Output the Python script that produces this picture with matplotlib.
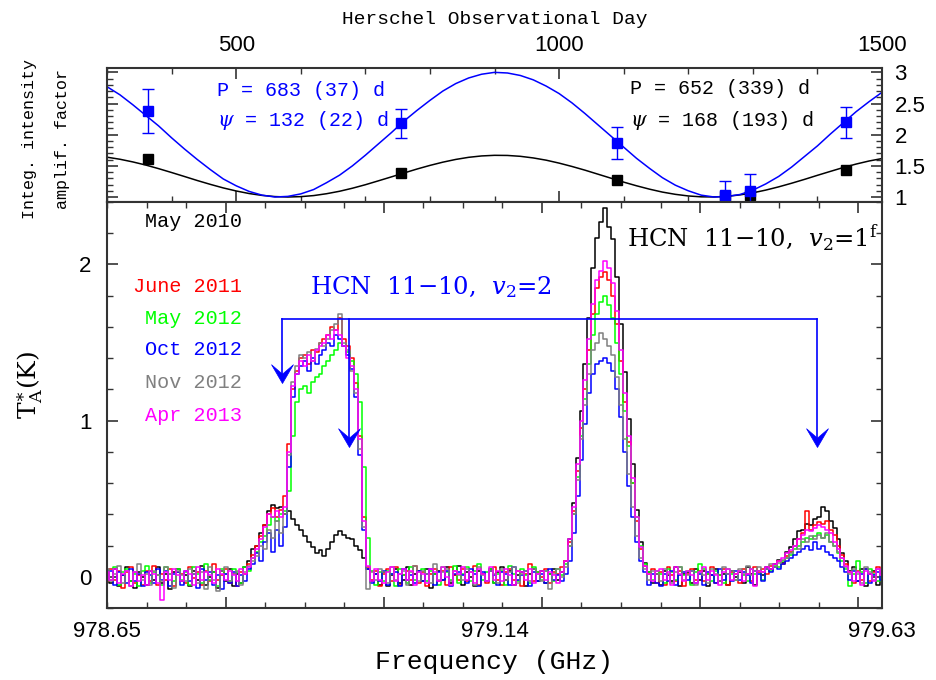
import matplotlib
matplotlib.use("Agg")
import matplotlib.pyplot as plt
import numpy as np
from matplotlib.ticker import MultipleLocator, FuncFormatter, NullFormatter
from matplotlib.path import Path

plt.rcParams['mathtext.fontset'] = 'dejavuserif'

# ---- top panel: integrated intensity amplification factor vs observing day
obs_days = [364, 755, 1090, 1257, 1296, 1444]
amp_v2_2 = [2.38, 2.18, 1.87, 1.03, 1.10, 2.20]
amp_v2_2_err = [0.36, 0.23, 0.26, 0.23, 0.27, 0.25]
amp_v2_1f = [1.61, 1.38, 1.27, 1.01, 1.04, 1.43]

# fitted curves (every 20 days, from day 300)
fit_days = np.arange(300, 1501, 20)
fit_v2_2 = [2.77, 2.64, 2.48, 2.31, 2.14, 1.95, 1.77, 1.60, 1.44, 1.29,
            1.18, 1.09, 1.03, 1.00, 1.01, 1.05, 1.12, 1.23, 1.35, 1.50,
            1.67, 1.85, 2.03, 2.22, 2.39, 2.55, 2.70, 2.82, 2.91, 2.97,
            3.00, 2.99, 2.95, 2.88, 2.78, 2.66, 2.51, 2.34, 2.16, 1.98,
            1.80, 1.62, 1.46, 1.31, 1.19, 1.10, 1.03, 1.00, 1.01, 1.04,
            1.11, 1.21, 1.33, 1.48, 1.65, 1.82, 2.01, 2.19, 2.37, 2.53,
            2.68]
fit_v2_1f = [1.639, 1.606, 1.563, 1.513, 1.455, 1.393, 1.329, 1.264, 1.203, 1.146,
             1.097, 1.056, 1.026, 1.007, 1.000, 1.006, 1.023, 1.053, 1.092, 1.141,
             1.197, 1.259, 1.322, 1.386, 1.449, 1.507, 1.559, 1.603, 1.637, 1.659,
             1.669, 1.667, 1.653, 1.627, 1.591, 1.544, 1.490, 1.431, 1.367, 1.303,
             1.239, 1.180, 1.126, 1.079, 1.043, 1.017, 1.003, 1.001, 1.011, 1.034,
             1.067, 1.111, 1.163, 1.221, 1.283, 1.348, 1.411, 1.473, 1.529, 1.578,
             1.617]

# ---- bottom panel: spectra, channels of 5 MHz from 978.65 GHz
may2010 = [0.02, -0.04, 0.05, -0.06, 0.01, 0.06, -0.03, -0.07, 0.03, 0.00,
           -0.05, 0.04, -0.02, 0.06, -0.04, 0.02, -0.08, 0.03, 0.05, -0.03,
           0.01, -0.06, 0.04, -0.02, 0.07, -0.05, 0.00, 0.03, -0.07, 0.04,
           -0.03, 0.05, -0.06, 0.02, -0.04, 0.06, 0.10, 0.18, 0.20, 0.28,
           0.33, 0.42, 0.46, 0.44, 0.45, 0.40, 0.42, 0.37, 0.33, 0.30,
           0.26, 0.22, 0.19, 0.15, 0.17, 0.13, 0.18, 0.22, 0.27, 0.29,
           0.27, 0.25, 0.24, 0.20, 0.17, 0.12, 0.05, -0.03, 0.02, -0.05,
           0.03, -0.06, 0.01, 0.05, -0.04, -0.02, 0.06, -0.05, 0.02, 0.04,
           -0.03, 0.05, -0.07, 0.02, 0.04, -0.02, 0.06, -0.04, 0.01, 0.07,
           -0.05, 0.03, 0.00, -0.06, 0.04, 0.02, -0.03, 0.05, -0.04, 0.03,
           0.06, -0.02, 0.04, -0.05, 0.01, 0.03, -0.06, 0.02, 0.05, -0.03,
           0.04, -0.04, 0.02, 0.05, -0.02, 0.03, 0.10, 0.24, 0.47, 0.76,
           1.06, 1.36, 1.66, 1.98, 2.17, 2.27, 2.36, 2.24, 2.16, 1.92,
           1.62, 1.31, 1.01, 0.72, 0.43, 0.22, 0.09, 0.03, -0.04, 0.02,
           -0.05, 0.04, 0.01, -0.03, 0.06, -0.06, 0.02, 0.03, -0.04, 0.05,
           -0.02, 0.04, -0.06, 0.01, 0.05, -0.03, 0.02, -0.05, 0.04, 0.00,
           0.03, -0.04, 0.06, 0.02, -0.05, 0.04, 0.01, 0.06, 0.05, 0.08,
           0.11, 0.09, 0.16, 0.19, 0.24, 0.29, 0.30, 0.34, 0.33, 0.37,
           0.38, 0.45, 0.42, 0.36, 0.31, 0.24, 0.15, 0.10, 0.04, 0.06,
           -0.03, 0.05, -0.06, 0.02, 0.04, -0.05, 0.03]

june2011 = [-0.03, 0.05, -0.02, 0.04, -0.07, 0.03, 0.06, -0.04, 0.01, -0.05,
            0.04, -0.03, 0.07, -0.05, 0.02, -0.02, 0.05, -0.06, 0.03, 0.02,
            -0.04, 0.06, -0.01, 0.03, -0.05, 0.04, -0.03, 0.08, -0.02, 0.01,
            0.05, -0.04, 0.02, -0.06, 0.03, 0.02, 0.08, 0.14, 0.20, 0.26,
            0.33, 0.40, 0.44, 0.38, 0.43, 0.52, 0.85, 1.20, 1.32, 1.40,
            1.42, 1.36, 1.45, 1.44, 1.50, 1.52, 1.55, 1.60, 1.58, 1.66,
            1.52, 1.48, 1.40, 1.24, 0.90, 0.38, 0.06, -0.02, 0.04, -0.06,
            0.02, 0.05, -0.03, 0.06, -0.05, 0.01, 0.04, -0.02, 0.07, -0.04,
            0.03, -0.06, 0.02, 0.05, -0.03, 0.04, -0.05, 0.06, 0.01, -0.02,
            0.05, -0.03, 0.03, 0.07, -0.05, 0.02, -0.04, 0.04, 0.06, -0.02,
            -0.05, 0.03, 0.05, -0.02, 0.04, -0.06, 0.02, 0.08, -0.03, 0.03,
            0.00, 0.05, -0.04, 0.03, 0.02, 0.06, 0.10, 0.22, 0.42, 0.68,
            0.95, 1.20, 1.45, 1.68, 1.85, 1.92, 1.95, 1.90, 1.80, 1.62,
            1.38, 1.12, 0.86, 0.60, 0.36, 0.18, 0.07, 0.02, 0.05, -0.04,
            0.03, -0.05, 0.06, 0.01, -0.03, 0.04, -0.06, 0.02, 0.05, -0.02,
            0.04, -0.03, 0.02, 0.06, -0.04, 0.01, 0.05, -0.05, 0.03, 0.02,
            -0.04, 0.05, 0.02, -0.03, 0.06, 0.03, 0.05, 0.02, 0.07, 0.06,
            0.10, 0.08, 0.13, 0.16, 0.20, 0.24, 0.28, 0.42, 0.30, 0.33,
            0.35, 0.34, 0.36, 0.30, 0.27, 0.20, 0.14, 0.08, 0.03, -0.04,
            0.04, -0.02, 0.05, -0.03, 0.03, 0.06, -0.01]

may2012 = [0.04, -0.02, 0.06, -0.05, 0.03, 0.05, -0.03, 0.02, -0.06, 0.04,
           0.07, -0.04, 0.03, 0.01, -0.05, 0.06, 0.02, -0.03, 0.05, -0.02,
           0.03, -0.05, 0.06, 0.02, -0.04, 0.08, -0.02, 0.03, -0.06, 0.05,
           0.02, -0.03, 0.05, 0.03, -0.04, 0.06, 0.04, 0.12, 0.16, 0.22,
           0.26, 0.33, 0.38, 0.36, 0.40, 0.42, 0.55, 0.90, 1.12, 1.20,
           1.22, 1.18, 1.25, 1.28, 1.30, 1.35, 1.38, 1.42, 1.45, 1.50,
           1.48, 1.44, 1.38, 1.30, 1.12, 0.70, 0.25, 0.04, -0.05, 0.03,
           -0.03, 0.04, 0.02, -0.06, 0.05, 0.01, -0.04, 0.06, -0.02, 0.03,
           0.05, -0.03, 0.04, 0.02, -0.05, 0.06, 0.03, -0.02, 0.07, -0.04,
           0.02, 0.06, -0.03, 0.04, 0.08, -0.02, 0.03, 0.05, -0.04, 0.02,
           0.04, -0.05, 0.07, 0.02, -0.03, 0.05, 0.01, -0.04, 0.06, 0.03,
           -0.02, 0.04, 0.02, -0.03, 0.05, 0.01, 0.08, 0.20, 0.40, 0.64,
           0.90, 1.14, 1.36, 1.55, 1.68, 1.76, 1.80, 1.74, 1.66, 1.50,
           1.30, 1.06, 0.84, 0.60, 0.38, 0.20, 0.08, 0.03, -0.02, 0.04,
           0.02, -0.04, 0.05, 0.03, -0.02, 0.06, 0.01, 0.04, -0.05, 0.03,
           0.08, 0.05, 0.02, -0.03, 0.04, 0.01, -0.04, 0.05, 0.02, -0.02,
           0.04, 0.01, -0.03, 0.05, 0.02, 0.04, -0.02, 0.05, 0.04, 0.07,
           0.06, 0.10, 0.12, 0.14, 0.18, 0.20, 0.22, 0.25, 0.24, 0.26,
           0.28, 0.25, 0.27, 0.22, 0.20, 0.15, 0.10, 0.05, -0.06, 0.02,
           0.10, 0.03, -0.04, 0.05, 0.02, -0.03, 0.04]

oct2012 = [-0.02, 0.04, -0.05, 0.03, 0.01, -0.04, 0.05, -0.03, 0.02, -0.06,
           0.03, 0.01, -0.04, 0.05, -0.02, 0.04, -0.06, 0.02, 0.03, -0.05,
           0.04, -0.03, 0.02, -0.07, 0.05, -0.02, 0.03, -0.05, 0.01, -0.08,
           0.02, -0.04, 0.03, -0.06, 0.01, -0.03, 0.05, 0.08, 0.15, 0.10,
           0.22, 0.28, 0.16, 0.30, 0.20, 0.32, 0.70, 1.15, 1.30, 1.35,
           1.38, 1.32, 1.40, 1.36, 1.42, 1.45, 1.50, 1.48, 1.55, 1.52,
           1.48, 1.42, 1.33, 1.15, 0.78, 0.30, 0.05, -0.04, 0.02, -0.03,
           0.04, -0.05, 0.02, 0.03, -0.06, 0.05, -0.02, 0.01, -0.04, 0.04,
           -0.03, 0.02, 0.05, -0.05, 0.03, -0.02, 0.04, -0.06, 0.02, 0.03,
           0.01, -0.04, 0.05, 0.02, -0.06, 0.03, -0.03, 0.04, 0.01, -0.05,
           0.03, 0.02, -0.05, 0.06, -0.02, 0.01, 0.04, -0.06, 0.03, -0.03,
           0.02, -0.04, 0.05, -0.02, 0.01, -0.03, 0.02, 0.10, 0.28, 0.52,
           0.75, 0.98, 1.18, 1.30, 1.36, 1.38, 1.40, 1.37, 1.32, 1.20,
           1.02, 0.80, 0.58, 0.38, 0.22, 0.10, 0.03, -0.05, 0.02, -0.04,
           -0.06, 0.02, -0.03, 0.04, -0.05, 0.01, 0.03, -0.02, 0.04, -0.04,
           0.02, -0.05, 0.03, 0.01, -0.04, 0.05, -0.02, 0.02, -0.03, 0.04,
           -0.02, 0.03, 0.01, -0.04, 0.04, 0.02, -0.03, 0.05, 0.03, 0.06,
           0.05, 0.08, 0.10, 0.12, 0.14, 0.16, 0.18, 0.20, 0.17, 0.22,
           0.18, 0.20, 0.16, 0.14, 0.12, 0.10, 0.06, 0.03, -0.02, 0.04,
           -0.03, 0.02, 0.05, -0.04, 0.01, 0.03, -0.02]

nov2012 = [0.05, -0.03, 0.02, 0.07, -0.04, 0.04, -0.06, 0.03, 0.08, -0.02,
           0.02, -0.05, 0.04, 0.01, -0.03, 0.06, 0.02, -0.07, 0.04, 0.01,
           -0.03, 0.05, 0.02, -0.04, 0.03, -0.08, 0.06, -0.02, -0.09, 0.04,
           0.06, -0.03, 0.02, 0.04, -0.05, 0.03, 0.07, 0.10, 0.13, 0.20,
           0.18, 0.30, 0.25, 0.36, 0.28, 0.40, 0.78, 1.25, 1.35, 1.42,
           1.40, 1.44, 1.38, 1.46, 1.50, 1.48, 1.52, 1.58, 1.62, 1.68,
           1.50, 1.45, 1.32, 1.18, 0.82, 0.32, -0.08, 0.03, -0.02, 0.05,
           0.03, -0.04, 0.06, -0.02, 0.02, 0.04, -0.05, 0.03, 0.07, -0.03,
           0.04, 0.02, -0.04, 0.08, -0.02, 0.03, 0.05, -0.03, 0.04, 0.01,
           -0.02, 0.05, 0.03, -0.05, 0.06, 0.01, -0.03, 0.04, 0.02, -0.04,
           0.05, -0.02, 0.03, 0.06, -0.04, 0.02, 0.04, -0.03, 0.05, 0.02,
           -0.03, 0.04, -0.08, 0.02, 0.05, 0.00, 0.06, 0.20, 0.40, 0.62,
           0.88, 1.10, 1.30, 1.45, 1.50, 1.56, 1.52, 1.48, 1.42, 1.28,
           1.10, 0.88, 0.66, 0.45, 0.26, 0.12, 0.05, -0.02, 0.04, 0.02,
           -0.03, 0.05, 0.02, -0.04, 0.03, 0.06, -0.02, 0.01, 0.04, -0.05,
           0.03, 0.01, -0.04, 0.05, 0.02, -0.03, 0.06, 0.02, 0.04, -0.02,
           0.05, 0.02, 0.07, 0.01, 0.04, 0.06, 0.03, 0.05, 0.08, 0.06,
           0.09, 0.11, 0.12, 0.15, 0.20, 0.18, 0.24, 0.22, 0.26, 0.24,
           0.27, 0.25, 0.28, 0.22, 0.20, 0.16, 0.12, 0.06, 0.02, 0.05,
           0.02, -0.04, 0.06, 0.03, -0.02, 0.05, 0.01]

apr2013 = [0.03, -0.02, 0.05, -0.04, 0.02, 0.04, -0.06, 0.03, -0.03, 0.01,
           -0.05, 0.04, 0.02, -0.04, -0.15, 0.03, -0.02, 0.05, 0.01, -0.03,
           0.04, 0.02, -0.05, 0.06, -0.02, 0.03, 0.01, -0.04, 0.05, 0.02,
           -0.02, 0.04, 0.01, -0.03, 0.05, 0.02, 0.06, 0.12, 0.18, 0.24,
           0.32, 0.40, 0.38, 0.42, 0.38, 0.45, 0.80, 1.22, 1.30, 1.38,
           1.35, 1.42, 1.38, 1.45, 1.48, 1.50, 1.55, 1.52, 1.58, 1.55,
           1.48, 1.40, 1.35, 1.20, 0.88, 0.36, 0.07, -0.03, 0.05, -0.02,
           -0.04, 0.03, 0.06, -0.03, 0.02, 0.05, -0.02, 0.04, -0.05, 0.03,
           0.02, -0.04, 0.05, 0.03, -0.03, 0.06, 0.00, -0.05, 0.04, 0.02,
           0.06, -0.02, 0.03, -0.04, 0.05, 0.02, -0.03, 0.06, -0.02, 0.04,
           -0.03, 0.05, 0.01, -0.05, 0.04, 0.03, -0.02, 0.05, -0.04, 0.02,
           0.04, -0.02, 0.03, 0.01, -0.04, 0.03, 0.10, 0.24, 0.45, 0.72,
           1.00, 1.26, 1.52, 1.75, 1.90, 1.96, 2.02, 1.98, 1.88, 1.70,
           1.45, 1.18, 0.90, 0.63, 0.38, 0.19, 0.07, 0.02, -0.03, 0.04,
           0.05, -0.02, 0.03, -0.05, 0.06, 0.02, -0.03, 0.04, 0.01, -0.04,
           0.03, 0.06, -0.02, 0.04, 0.01, -0.05, 0.03, 0.05, -0.02, 0.02,
           0.04, -0.03, 0.02, 0.05, -0.06, 0.04, 0.03, 0.06, 0.05, 0.08,
           0.10, 0.12, 0.15, 0.17, 0.20, 0.24, 0.27, 0.30, 0.29, 0.31,
           0.33, 0.32, 0.30, 0.28, 0.22, 0.18, 0.12, 0.07, 0.03, -0.03,
           0.03, -0.05, 0.04, 0.02, -0.03, 0.05, 0.01]

spectra = [("May 2010", may2010, "black"),
           ("June 2011", june2011, "red"),
           ("May 2012", may2012, "lime"),
           ("Oct 2012", oct2012, "blue"),
           ("Nov 2012", nov2012, "gray"),
           ("Apr 2013", apr2013, "magenta")]
freq = 978.65 + 0.005 * np.arange(len(may2010))

# v2=2 line positions marked by arrows (GHz) and arrow tips (K)
v2_2_freqs = [978.871, 978.956, 979.548]
v2_2_tips = [1.24, 0.83, 0.83]
v2_2_bar = 1.65

freq_labels = [978.65, 979.14, 979.63]

MONO = 'Liberation Mono'
SANS = 'Liberation Sans'
SERIF = 'DejaVu Serif'
AXC = '#333333'
W, H = 936, 680


def fpos(x, y):
    return x / W, 1 - y / H


fig = plt.figure(figsize=(W / 100, H / 100), dpi=100)
ax1 = fig.add_axes([107 / W, 1 - 202 / H, 775 / W, 134 / H])
ax2 = fig.add_axes([107 / W, 1 - 608 / H, 775 / W, 406 / H])

for ax in (ax1, ax2):
    for sp in ax.spines.values():
        sp.set_color(AXC)
        sp.set_linewidth(1.5)

# ---- top panel
ax1.plot(fit_days, fit_v2_1f, color='black', lw=1.1)
ax1.plot(fit_days, fit_v2_2, color='blue', lw=1.1)
ax1.plot(obs_days, amp_v2_1f, 's', color='black', ms=6.5)
ax1.errorbar(obs_days, amp_v2_2, yerr=amp_v2_2_err, fmt='s', color='blue',
             ms=7, capsize=4.5, elinewidth=1.0, capthick=1.0)
ax1.set_xlim(300, 1500)
ax1.set_ylim(0.92, 3.07)
ax1.xaxis.set_major_locator(MultipleLocator(500))
ax1.xaxis.set_minor_locator(MultipleLocator(100))
ax1.yaxis.set_major_locator(MultipleLocator(0.5))
ax1.yaxis.set_minor_locator(MultipleLocator(0.1))
ax1.yaxis.set_major_formatter(FuncFormatter(lambda v, p: '%g' % v))
ax1.tick_params(axis='x', which='both', direction='in', top=True, bottom=True,
                labeltop=True, labelbottom=False, color=AXC)
ax1.tick_params(axis='y', which='both', direction='in', left=True, right=True,
                labelleft=False, labelright=True, color=AXC)
ax1.tick_params(which='major', length=8, width=1.2, labelsize=16, pad=9)
ax1.tick_params(which='minor', length=4, width=1.0)
for lab in ax1.get_xticklabels() + ax1.get_yticklabels():
    lab.set_family(SANS)

fig.text(*fpos(495, 20), 'Herschel Observational Day', family=MONO,
         fontsize=14, ha='center', va='center')
fig.text(*fpos(30, 139), 'Integ. intensity', family=MONO, fontsize=12,
         rotation=90, ha='center', va='center')
fig.text(*fpos(63, 139), 'amplif. factor', family=MONO, fontsize=12,
         rotation=90, ha='center', va='center')
fig.text(*fpos(217, 90), 'P = 683 (37) d', family=MONO, fontsize=14.4,
         color='blue', ha='left', va='center')
fig.text(*fpos(217, 121), r'$\psi$ = 132 (22) d', family=MONO, fontsize=14.4,
         color='blue', ha='left', va='center')
fig.text(*fpos(630, 89), 'P = 652 (339) d', family=MONO, fontsize=14.4,
         color='black', ha='left', va='center')
fig.text(*fpos(630, 121), r'$\psi$ = 168 (193) d', family=MONO, fontsize=14.4,
         color='black', ha='left', va='center')

# ---- bottom panel
for name, vals, col in spectra:
    ax2.step(freq, vals, where='mid', color=col, lw=1.1)

ax2.plot([v2_2_freqs[0], v2_2_freqs[-1]], [v2_2_bar, v2_2_bar],
         color='blue', lw=1.2)
head = Path([(0, 0), (-0.7, 1.2), (0, 0.6), (0.7, 1.2), (0, 0)],
            [Path.MOVETO, Path.LINETO, Path.LINETO, Path.LINETO, Path.CLOSEPOLY])
for f, tip in zip(v2_2_freqs, v2_2_tips):
    ax2.plot([f, f], [v2_2_bar, tip + 0.03], color='blue', lw=1.2)
    ax2.plot([f], [tip], marker=head, ms=27, color='blue', mec='blue', mew=0.5)

ax2.set_xlim(978.65, 979.63)
ax2.set_ylim(-0.2, 2.4)
ax2.xaxis.set_major_locator(MultipleLocator(0.2))
ax2.xaxis.set_minor_locator(MultipleLocator(0.05))
ax2.xaxis.set_major_formatter(NullFormatter())
ax2.yaxis.set_major_locator(MultipleLocator(1))
ax2.yaxis.set_minor_locator(MultipleLocator(0.2))
ax2.yaxis.set_major_formatter(FuncFormatter(lambda v, p: '%g' % v))
ax2.tick_params(which='both', direction='in', top=True, bottom=True,
                left=True, right=True, color=AXC)
ax2.tick_params(which='major', length=8, width=1.2, labelsize=16, pad=11)
ax2.tick_params(which='minor', length=4, width=1.0)
for lab in ax2.get_yticklabels():
    lab.set_family(SANS)
for f in freq_labels:
    ax2.text(f, -0.059, '%.2f' % f, transform=ax2.get_xaxis_transform(),
             family=SANS, fontsize=16, ha='center', va='center')

fig.text(*fpos(494, 662), 'Frequency (GHz)', family=MONO, fontsize=19,
         ha='center', va='center')
fig.text(*fpos(30, 385), r'$\mathrm{T_A^{\ast}(K)}$', fontsize=18,
         rotation=90, ha='center', va='center')

legend_y = [222, 286, 318, 350, 383, 415]
for (name, vals, col), y in zip(spectra, legend_y):
    fig.text(*fpos(242, y), name, family=MONO, fontsize=14.5, color=col,
             ha='right', va='center')

fig.text(*fpos(627, 238), 'HCN  11\u221210,  $v_2$=1$^{\\rm f}$', family=SERIF,
         fontsize=17.5, color='black', ha='left', va='center')
fig.text(*fpos(310, 287), 'HCN  11\u221210,  $v_2$=2', family=SERIF,
         fontsize=17.5, color='blue', ha='left', va='center')

fig.savefig('out.png', dpi=100)
